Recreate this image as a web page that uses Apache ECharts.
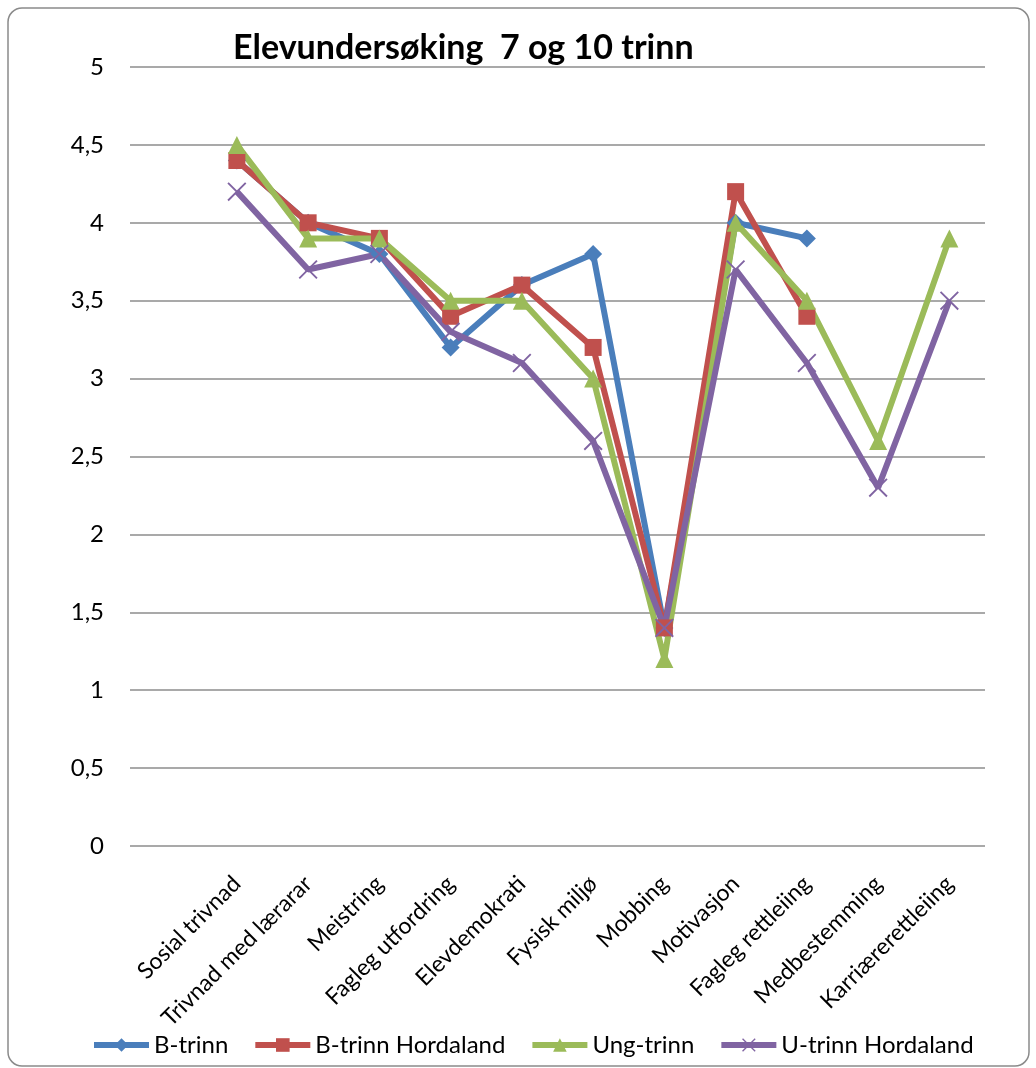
<!DOCTYPE html>
<html><head><meta charset="utf-8">
<script src="https://cdn.jsdelivr.net/npm/echarts@6/dist/echarts.min.js"></script>
<style>html,body{margin:0;padding:0;background:#fff}#c{width:1036px;height:1068px}</style>
</head><body><div id="c"></div>
<script>
const title = 'Elevundersøking  7 og 10 trinn';
const categories = ['Sosial trivnad','Trivnad med lærarar','Meistring','Fagleg utfordring','Elevdemokrati','Fysisk miljø','Mobbing','Motivasjon','Fagleg rettleiing','Medbestemming','Karriærerettleiing'];
const bTrinn = [4.4, 4.0, 3.8, 3.2, 3.6, 3.8, 1.4, 4.0, 3.9, null, null];
const bTrinnHordaland = [4.4, 4.0, 3.9, 3.4, 3.6, 3.2, 1.4, 4.2, 3.4, null, null];
const ungTrinn = [4.5, 3.9, 3.9, 3.5, 3.5, 3.0, 1.2, 4.0, 3.5, 2.6, 3.9];
const uTrinnHordaland = [4.2, 3.7, 3.8, 3.3, 3.1, 2.6, 1.4, 3.7, 3.1, 2.3, 3.5];
const seriesNames = ['B-trinn','B-trinn Hordaland','Ung-trinn','U-trinn Hordaland'];
const yTicks = ['0','0,5','1','1,5','2','2,5','3','3,5','4','4,5','5'];

const FONT = 'Lato';
const colors = ['#4A7EBB','#C0504D','#9BBB59','#8064A2'];
const symbols = ['diamond','rect','triangle','path://M0,0.7L0.7,0L10,9.3L9.3,10Z M9.3,0L10,0.7L0.7,10L0,9.3Z'];
const sizes = [18, 17, 18, 19];
const datas = [bTrinn, bTrinnHordaland, ungTrinn, uTrinnHordaland];

const chart = echarts.init(document.getElementById('c'), null, {renderer:'canvas'});
chart.setOption({
  animation:false,
  color: colors,
  title:{text:title,left:228,top:26,textStyle:{fontFamily:FONT,fontWeight:'bold',fontSize:34,color:'#000'}},
  graphic:[{type:'rect',shape:{x:8,y:8,width:1021,height:1058,r:14},style:{fill:'none',stroke:'#8a8a8a',lineWidth:1.5},silent:true}],
  legend:{bottom:6,left:86,itemWidth:55,itemHeight:17,itemGap:24,
    lineStyle:{width:6},
    textStyle:{fontFamily:FONT,fontSize:24,color:'#000'},data:seriesNames},
  grid:{left:130,right:51,top:67,bottom:222,containLabel:false},
  xAxis:{type:'category',boundaryGap:true,data:[''].concat(categories),
    axisLine:{show:false},axisTick:{show:false},
    axisLabel:{interval:0,rotate:45,margin:34,fontFamily:FONT,fontSize:23,color:'#000'}},
  yAxis:{type:'value',min:0,max:5,interval:0.5,
    axisLine:{show:false},axisTick:{show:false},
    axisLabel:{margin:26,fontFamily:FONT,fontSize:24,color:'#000',formatter:(v)=>yTicks[Math.round(v*2)]},
    splitLine:{lineStyle:{color:'#8c8c8c',width:1.5}}},
  series: datas.map((d,i)=>({
    name:seriesNames[i],type:'line',data:[null].concat(d),
    symbol:symbols[i],symbolSize:sizes[i],showAllSymbol:true,
    lineStyle:{width:6,color:colors[i]},
    itemStyle:{color:colors[i]},
    connectNulls:false
  }))
});
</script></body></html>
